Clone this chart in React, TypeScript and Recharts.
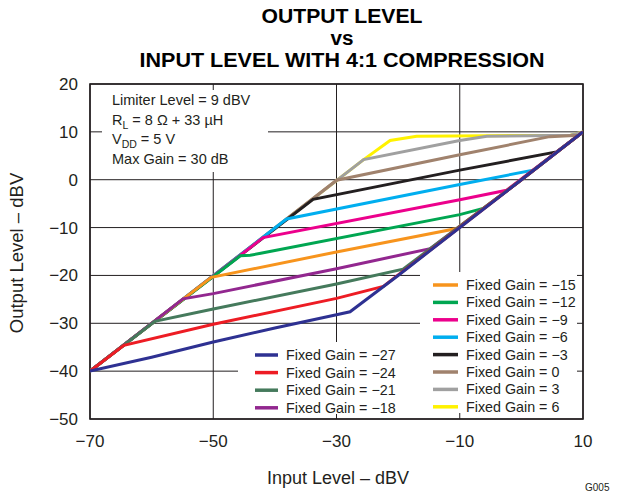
import React from 'react';
import { LineChart, Line, XAxis, YAxis, CartesianGrid, Customized } from 'recharts';

// ---- data ----
const inputTicks = [-70, -50, -30, -10, 10];
const outputTicks = [-50, -40, -30, -20, -10, 0, 10, 20];

const gainNames = [
  'Fixed Gain = −27', 'Fixed Gain = −24', 'Fixed Gain = −21', 'Fixed Gain = −18',
  'Fixed Gain = −15', 'Fixed Gain = −12', 'Fixed Gain = −9', 'Fixed Gain = −6',
  'Fixed Gain = −3', 'Fixed Gain = 0', 'Fixed Gain = 3', 'Fixed Gain = 6',
];
const gainColors = [
  '#2e3192', '#ed1c24', '#457a5c', '#92278f',
  '#f7941d', '#00a651', '#ec008c', '#00aeef',
  '#231f20', '#a0826d', '#a0a0a0', '#fff200',
];

// [input dBV, output dBV]
const gainM27: number[][] = [[-70, -40], [-60, -37.1], [-50, -33.9], [-40, -31.0], [-30, -28.2], [-27.8, -27.6], [-20, -20], [0, 0], [10, 10]];
const gainM24: number[][] = [[-70, -40], [-64.5, -34.6], [-50, -30.2], [-30, -24.8], [-22.4, -22.3], [0, 0], [10, 10]];
const gainM21: number[][] = [[-70, -40], [-59.5, -29.6], [-50, -27.0], [-30, -21.8], [-19.2, -18.7], [0, 0], [10, 10]];
const gainM18: number[][] = [[-70, -40], [-54.9, -24.9], [-50, -23.8], [-30, -18.6], [-14.8, -14.4], [0, 0], [10, 10]];
const gainM15: number[][] = [[-70, -40], [-50.3, -20.4], [-30, -15.1], [-10.5, -10.2], [0, 0], [10, 10]];
const gainM12: number[][] = [[-70, -40], [-45.6, -15.9], [-44, -15.8], [-10, -7.3], [-6.2, -6.0], [0, 0], [10, 10]];
const gainM9: number[][] = [[-70, -40], [-41.9, -12.1], [-10, -4.2], [-2.4, -2.2], [10, 10]];
const gainM6: number[][] = [[-70, -40], [-38.1, -8.2], [-10, -1.0], [1.9, 2.0], [10, 10]];
const gainM3: number[][] = [[-70, -40], [-33.8, -4.1], [-10, 2.0], [5.7, 5.8], [10, 10]];
const gain0: number[][] = [[-70, -40], [-30.0, -0.1], [-10, 5.2], [4.6, 9.0], [9.3, 9.3], [10, 10]];
const gainP3: number[][] = [[-70, -40], [-25.6, 4.2], [-10, 8.2], [-5.6, 9.1], [8, 9.3], [10, 10]];
const gainP6: number[][] = [[-70, -40], [-25.6, 4.2], [-21.3, 8.2], [-17, 9.1], [-5.6, 9.2], [8, 9.3], [10, 10]];

const seriesPoints = [gainM27, gainM24, gainM21, gainM18, gainM15, gainM12, gainM9, gainM6, gainM3, gain0, gainP3, gainP6];

const titleLines = ['OUTPUT LEVEL', 'vs', 'INPUT LEVEL WITH 4:1 COMPRESSION'];
const titleWidths = [161, 23, 405];
const conditions = [
  ['Limiter Level = 9 dBV', '', ''],
  ['R', 'L', ' = 8 Ω + 33 µH'],
  ['V', 'DD', ' = 5 V'],
  ['Max Gain = 30 dB', '', ''],
];
const xLabel = 'Input Level – dBV';
const yLabel = 'Output Level – dBV';
const figId = 'G005';

const FONT = '"Liberation Sans", Arial, Helvetica, sans-serif';
const INK = '#231f20';

const fmt = (v: number) => String(v).replace('-', '−');

const series = seriesPoints.map((pts, i) => ({
  name: gainNames[i],
  color: gainColors[i],
  data: pts.map(([x, y]) => ({ x, y })),
}));

const Overlay = () => {
  const leg1 = series.slice(0, 4);
  const leg2 = series.slice(4);
  return (
    <g fontFamily={FONT}>
      {/* white boxes behind text */}
      <rect x={102} y={90} width={166} height={82} fill="#fff" />
      <rect x={238} y={342} width={182} height={72} fill="#fff" />
      <rect x={420} y={272} width={157} height={141} fill="#fff" />
      {conditions.map((c, i) => (
        <text key={i} x={112} y={105 + i * 19.7} fontSize={14.5} fill={INK}>
          {c[0]}
          {c[1] ? <tspan fontSize={10.5} dy={4}>{c[1]}</tspan> : null}
          {c[2] ? <tspan dy={c[1] ? -4 : 0}>{c[2]}</tspan> : null}
        </text>
      ))}
      {leg1.map((s, i) => (
        <g key={s.name}>
          <line x1={255} x2={278} y1={355 + i * 17.6} y2={355 + i * 17.6} stroke={s.color} strokeWidth={3.5} />
          <text x={286} y={360 + i * 17.6} fontSize={14.3} fill={INK}>{s.name}</text>
        </g>
      ))}
      {leg2.map((s, i) => (
        <g key={s.name}>
          <line x1={433} x2={458} y1={285 + i * 17.4} y2={285 + i * 17.4} stroke={s.color} strokeWidth={3.5} />
          <text x={466} y={290 + i * 17.4} fontSize={14.3} fill={INK}>{s.name}</text>
        </g>
      ))}
      {/* frame */}
      <rect x={90} y={84} width={493} height={335} fill="none" stroke={INK} strokeWidth={1.6} />
      {/* titles */}
      {titleLines.map((t, i) => (
        <text
          key={t}
          x={342 - titleWidths[i] / 2}
          y={23.3 + i * 21.7}
          fontSize={19.5}
          fontWeight="bold"
          fill="#000"
          textLength={titleWidths[i]}
          lengthAdjust="spacingAndGlyphs"
        >
          {t}
        </text>
      ))}
      <text x={338} y={484} textAnchor="middle" fontSize={18} fill={INK}>{xLabel}</text>
      <text x={23} y={253} textAnchor="middle" fontSize={18.5} fill={INK} transform="rotate(-90 23 253)">{yLabel}</text>
      <text x={585} y={491} fontSize={10} fill={INK}>{figId}</text>
    </g>
  );
};

export default function App() {
  return (
    <div style={{ position: 'absolute', left: 0, top: 0, width: 617, height: 493, background: '#fff' }}>
      <LineChart width={617} height={493} margin={{ top: 84, right: 34, bottom: 0, left: 0 }}>
        <CartesianGrid stroke={INK} strokeWidth={1} />
        <XAxis
          type="number"
          dataKey="x"
          domain={[-70, 10]}
          ticks={inputTicks}
          allowDataOverflow
          axisLine={false}
          tickLine={false}
          tickSize={6}
          tickMargin={10}
          height={74}
          tickFormatter={fmt}
          tick={{ fill: INK, fontSize: 17, fontFamily: FONT }}
        />
        <YAxis
          type="number"
          dataKey="y"
          domain={[-50, 20]}
          ticks={outputTicks}
          allowDataOverflow
          axisLine={false}
          tickLine={false}
          tickSize={6}
          tickMargin={6}
          width={90}
          tickFormatter={fmt}
          tick={{ fill: INK, fontSize: 17, fontFamily: FONT }}
        />
        <Customized component={Overlay} />
        {series.slice().reverse().map((s) => (
          <Line
            key={s.name}
            data={s.data}
            dataKey="y"
            name={s.name}
            type="linear"
            stroke={s.color}
            strokeWidth={3}
            dot={false}
            activeDot={false}
            isAnimationActive={false}
          />
        ))}
      </LineChart>
    </div>
  );
}
